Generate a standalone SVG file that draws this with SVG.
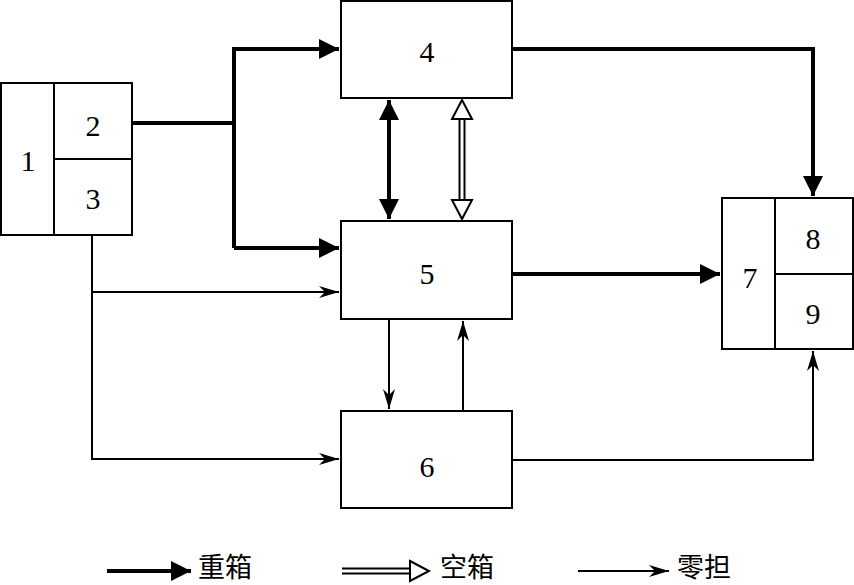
<svg xmlns="http://www.w3.org/2000/svg" width="854" height="585" viewBox="0 0 854 585">
<style>
.box{fill:#fff;stroke:#000;stroke-width:2}
.num{font-family:"Liberation Serif",serif;font-size:30px;text-anchor:middle;dominant-baseline:central;fill:#000}
.cjk{font-family:"Liberation Serif","Noto Sans CJK SC",serif;font-size:27px;fill:#000}
.heavy{fill:none;stroke:#000;stroke-width:4}
.thin{fill:none;stroke:#000;stroke-width:2}
</style>
<defs>
<marker id="hv" markerUnits="userSpaceOnUse" markerWidth="22" markerHeight="20" refX="20" refY="10" orient="auto-start-reverse">
<path d="M0,0 L20,10 L0,20 Z" fill="#000"/>
</marker>
<marker id="tn" markerUnits="userSpaceOnUse" markerWidth="22" markerHeight="14" refX="20" refY="7" orient="auto-start-reverse">
<path d="M0,1 L20,7 L0,13 L6,7 Z" fill="#000"/>
</marker>
<marker id="ho" markerUnits="userSpaceOnUse" markerWidth="24" markerHeight="24" refX="21" refY="12" orient="auto-start-reverse">
<path d="M2,2 L21,12 L2,22 Z" fill="#fff" stroke="#000" stroke-width="2"/>
</marker>
</defs>
<g id="connectors">
<path class="heavy" d="M132,123 H234"/>
<path class="heavy" d="M234,248 V49 H339" marker-end="url(#hv)"/>
<path class="heavy" d="M234,248 H339" marker-end="url(#hv)"/>
<path class="heavy" d="M512,49 H813 V196" marker-end="url(#hv)"/>
<path class="heavy" d="M512,274 H720" marker-end="url(#hv)"/>
<path class="heavy" d="M389,100 V219" marker-start="url(#hv)" marker-end="url(#hv)"/>
<path fill="none" stroke="#000" stroke-width="7" d="M462,116 V203"/>
<path fill="none" stroke="#fff" stroke-width="3" d="M462,114 V205"/>
<path fill="none" stroke="none" d="M462,100 V219" marker-start="url(#ho)" marker-end="url(#ho)"/>
<path class="thin" d="M92,235 V459 H339" marker-end="url(#tn)"/>
<path class="thin" d="M92,292 H339" marker-end="url(#tn)"/>
<path class="thin" d="M389,319 V409" marker-end="url(#tn)"/>
<path class="thin" d="M463,411 V321" marker-end="url(#tn)"/>
<path class="thin" d="M512,460 H813 V351" marker-end="url(#tn)"/>
</g>
<g id="node-1-3">
<rect class="box" x="1" y="83" width="131" height="152"/>
<line x1="54" y1="83" x2="54" y2="235" stroke="#000" stroke-width="2"/>
<line x1="54" y1="159" x2="132" y2="159" stroke="#000" stroke-width="2"/>
<text class="num" x="28" y="160">1</text>
<text class="num" x="93" y="125">2</text>
<text class="num" x="93" y="198">3</text>
</g>
<g id="node-4">
<rect class="box" x="341" y="1" width="171" height="97"/>
<text class="num" x="427" y="51">4</text>
</g>
<g id="node-5">
<rect class="box" x="341" y="221" width="171" height="98"/>
<text class="num" x="427" y="273">5</text>
</g>
<g id="node-6">
<rect class="box" x="341" y="411" width="171" height="97"/>
<text class="num" x="427" y="466">6</text>
</g>
<g id="node-7-9">
<rect class="box" x="722" y="198" width="131" height="151"/>
<line x1="775" y1="198" x2="775" y2="349" stroke="#000" stroke-width="2"/>
<line x1="775" y1="274" x2="853" y2="274" stroke="#000" stroke-width="2"/>
<text class="num" x="750" y="277">7</text>
<text class="num" x="813" y="238">8</text>
<text class="num" x="813" y="313">9</text>
</g>
<g id="legend">
<path class="heavy" d="M107,571 H191" marker-end="url(#hv)"/>
<text class="cjk" x="198" y="577">重箱</text>
<path fill="none" stroke="#000" stroke-width="7" d="M342,571 H410"/>
<path fill="none" stroke="#fff" stroke-width="3" d="M340,571 H412"/>
<path fill="none" stroke="none" d="M342,571 H429" marker-end="url(#ho)"/>
<text class="cjk" x="440" y="577">空箱</text>
<path class="thin" d="M578,571 H669" marker-end="url(#tn)"/>
<text class="cjk" x="677" y="577">零担</text>
</g>
</svg>
